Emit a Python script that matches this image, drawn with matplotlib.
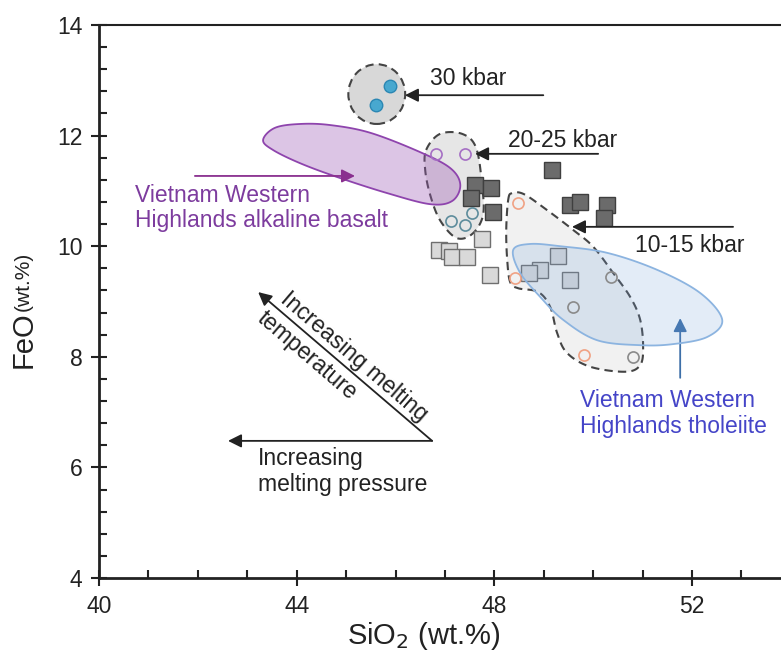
import numpy as np
import matplotlib.pyplot as plt
from matplotlib.patches import Polygon, Ellipse
from matplotlib.ticker import MultipleLocator

plt.rcParams['font.family'] = ['Liberation Sans', 'DejaVu Sans']

# --- sample data (SiO2, FeO in wt.%) ---
blue_sio2 = [45.89, 45.61]            # 30 kbar melts
blue_feo = [12.90, 12.55]
purple_sio2 = [46.82, 47.41]          # 20-25 kbar
purple_feo = [11.67, 11.67]
teal_sio2 = [47.13, 47.41, 47.55]
teal_feo = [10.46, 10.38, 10.60]
orange_sio2 = [48.48, 48.42, 49.82]   # 10-15 kbar
orange_feo = [10.78, 9.42, 8.03]
grey_sio2 = [50.36, 49.60, 50.81]
grey_feo = [9.44, 8.90, 8.00]

dark_sio2 = [47.61, 47.94, 47.53, 47.98, 49.17, 49.53, 49.74, 50.28, 50.22]
dark_feo = [11.11, 11.05, 10.87, 10.62, 11.38, 10.75, 10.80, 10.75, 10.51]
light_sio2 = [47.75, 46.88, 47.09, 47.15, 47.45, 47.91, 49.29, 48.93, 48.70, 49.53]
light_feo = [10.13, 9.93, 9.91, 9.80, 9.80, 9.48, 9.82, 9.57, 9.52, 9.39]

# field outlines
f2025_x = [46.62, 46.90, 47.35, 47.63, 47.75, 47.77, 47.55, 47.23, 46.90, 46.70, 46.60]
f2025_y = [11.74, 12.03, 12.03, 11.78, 11.11, 10.56, 10.22, 10.15, 10.47, 10.93, 11.38]
f1015_x = [48.28, 48.36, 48.60, 49.07, 49.60, 50.00, 50.40, 50.75, 50.95, 51.01, 50.95,
           50.65, 49.94, 49.47, 49.27, 49.13, 48.89, 48.48, 48.32, 48.26, 48.24]
f1015_y = [10.84, 10.96, 10.94, 10.65, 10.29, 9.99, 9.52, 9.08, 8.67, 8.18, 7.85,
           7.73, 7.82, 8.07, 8.43, 8.90, 9.17, 9.24, 9.35, 9.75, 10.29]
thol_x = [48.38, 48.72, 49.33, 50.28, 51.30, 52.17, 52.61, 52.31, 51.62, 50.95,
          50.08, 49.39, 48.93, 48.52]
thol_y = [9.93, 10.04, 10.00, 9.88, 9.57, 9.15, 8.67, 8.36, 8.23, 8.21,
          8.30, 8.67, 9.08, 9.52]
alk_x = [43.32, 43.56, 44.07, 44.68, 45.49, 46.50, 47.11, 47.31, 47.15, 46.70,
         45.83, 44.82, 44.07, 43.52]
alk_y = [11.92, 12.14, 12.21, 12.19, 12.05, 11.70, 11.41, 11.11, 10.82, 10.76,
         10.96, 11.25, 11.50, 11.74]


def smooth_closed(xs, ys, n=24):
    # closed Catmull-Rom curve through the outline points
    p = np.column_stack([xs, ys])
    k = len(p)
    t = np.linspace(0, 1, n, endpoint=False)[:, None]
    segs = []
    for i in range(k):
        p0, p1, p2, p3 = p[i - 1], p[i], p[(i + 1) % k], p[(i + 2) % k]
        segs.append(0.5 * (2 * p1 + (-p0 + p2) * t + (2 * p0 - 5 * p1 + 4 * p2 - p3) * t ** 2
                           + (-p0 + 3 * p1 - 3 * p2 + p3) * t ** 3))
    return np.vstack(segs)


fig = plt.figure(figsize=(7.81, 6.57), dpi=100)
ax = fig.add_axes([0.1268, 0.1202, 0.8732, 0.8418])

dash = (0, (4, 2.5))
ax.add_patch(Ellipse((45.62, 12.75), 1.15, 1.08, facecolor='#d8d8d8', edgecolor='#444444',
                     lw=1.5, ls=dash, zorder=1))
ax.add_patch(Polygon(smooth_closed(f2025_x, f2025_y), closed=True, facecolor='#e6e6e6',
                     edgecolor='#444444', lw=1.5, ls=dash, zorder=1))
ax.add_patch(Polygon(smooth_closed(f1015_x, f1015_y), closed=True, facecolor='#f1f1f1',
                     edgecolor='#444444', lw=1.5, ls=dash, zorder=1))

ax.add_patch(Polygon(smooth_closed(alk_x, alk_y), closed=True, facecolor=(0.61, 0.35, 0.71, 0.35),
                     edgecolor='#8e44ad', lw=1.3, zorder=2))

ax.plot(dark_sio2, dark_feo, 's', ms=11, mfc='#6b6b6b', mec='#3f3f3f', mew=1, zorder=3)
ax.plot(light_sio2, light_feo, 's', ms=11, mfc='#d9d9d9', mec='#6f6f6f', mew=1, zorder=3)

ax.add_patch(Polygon(smooth_closed(thol_x, thol_y), closed=True, facecolor=(0.45, 0.63, 0.86, 0.2),
                     edgecolor='#8cb4e0', lw=1.3, zorder=4))

ax.plot(blue_sio2, blue_feo, 'o', ms=9, mfc='#48a8cf', mec='#2b87b3', mew=1, zorder=5)
ax.plot(purple_sio2, purple_feo, 'o', ms=8, mfc='none', mec='#a56fc4', mew=1.2, zorder=5)
ax.plot(teal_sio2, teal_feo, 'o', ms=8, mfc='none', mec='#5d8c9c', mew=1.2, zorder=5)
ax.plot(orange_sio2, orange_feo, 'o', ms=8, mfc='none', mec='#f0a284', mew=1.2, zorder=5)
ax.plot(grey_sio2, grey_feo, 'o', ms=8, mfc='none', mec='#8a8a8a', mew=1.2, zorder=5)

arrow = dict(arrowstyle='-|>', mutation_scale=20, lw=1.3, color='#222222', shrinkA=0, shrinkB=0)
ax.annotate('', xy=(46.19, 12.73), xytext=(48.99, 12.73), arrowprops=arrow, zorder=6)
ax.annotate('', xy=(47.61, 11.67), xytext=(50.10, 11.67), arrowprops=arrow, zorder=6)
ax.annotate('', xy=(49.57, 10.35), xytext=(52.83, 10.35), arrowprops=arrow, zorder=6)
ax.annotate('', xy=(42.61, 6.48), xytext=(46.74, 6.48), arrowprops=arrow)
ax.annotate('', xy=(43.22, 9.17), xytext=(46.74, 6.48), arrowprops=arrow)
ax.annotate('', xy=(45.18, 11.27), xytext=(41.94, 11.27),
            arrowprops=dict(arrow, color='#8a2f8f'))
ax.annotate('', xy=(51.76, 8.70), xytext=(51.76, 7.62),
            arrowprops=dict(arrow, color='#3d6fa8'))

fs = 16.5
ax.text(46.70, 13.04, '30 kbar', fontsize=fs, color='#222222', va='center')
ax.text(48.28, 11.92, '20-25 kbar', fontsize=fs, color='#222222', va='center')
ax.text(50.85, 10.02, '10-15 kbar', fontsize=fs, color='#222222', va='center')
ax.text(40.73, 10.69, 'Vietnam Western\nHighlands alkaline basalt', fontsize=fs,
        color='#7d3c9e', va='center', linespacing=1.15)
ax.text(49.74, 6.97, 'Vietnam Western\nHighlands tholeiite', fontsize=fs,
        color='#4545c8', va='center', linespacing=1.15)
ax.text(43.22, 5.93, 'Increasing\nmelting pressure', fontsize=fs, color='#222222',
        va='center', linespacing=1.15)
ax.text(45.16, 8.00, 'Increasing melting', fontsize=fs, color='#222222', ha='center',
        va='center', rotation=-40.6, rotation_mode='anchor')
ax.text(44.20, 8.02, 'temperature', fontsize=fs, color='#222222', ha='center',
        va='center', rotation=-40.6, rotation_mode='anchor')

ax.set_xlim(40, 53.8)
ax.set_ylim(4, 14)
ax.set_xticks([40, 44, 48, 52])
ax.set_yticks([4, 6, 8, 10, 12, 14])
ax.xaxis.set_minor_locator(MultipleLocator(1))
ax.yaxis.set_minor_locator(MultipleLocator(0.4))
ax.tick_params(which='major', direction='inout', length=12, width=1.5, labelsize=16.5,
               colors='#222222', pad=6)
ax.tick_params(which='minor', direction='in', length=6, width=1.5, colors='#222222')
ax.spines['right'].set_visible(False)
for s in ['left', 'bottom', 'top']:
    ax.spines[s].set_linewidth(2)
    ax.spines[s].set_color('#222222')
ax.spines['top'].set_linewidth(1.5)

fig.text(0.542, 0.032, 'SiO$_2$ (wt.%)', fontsize=21, color='#222222', ha='center', va='center')
fig.text(0.03, 0.483, 'FeO', fontsize=21, color='#222222', rotation=90, ha='center', va='center')
fig.text(0.03, 0.572, '(wt.%)', fontsize=15, color='#222222', rotation=90, ha='center', va='center')

fig.savefig('out.png', dpi=100)
